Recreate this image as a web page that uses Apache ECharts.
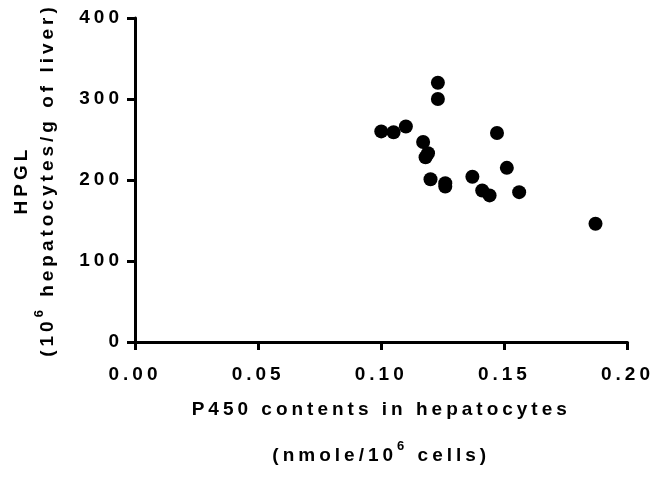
<!DOCTYPE html>
<html>
<head>
<meta charset="utf-8">
<script src="https://cdn.jsdelivr.net/npm/echarts@6/dist/echarts.min.js"></script>
<style>
  html, body { margin: 0; padding: 0; background: #fff; }
  #chart { width: 657px; height: 479px; }
</style>
</head>
<body>
<div id="chart"></div>
<script>
// P450 content vs HPGL, one point per animal
var p450 = [0.123, 0.123, 0.100, 0.105, 0.110, 0.117, 0.119, 0.118, 0.147, 0.120,
            0.126, 0.126, 0.151, 0.137, 0.141, 0.144, 0.156, 0.187];
var hpgl = [320, 300, 260, 259, 266, 247, 233, 228, 258, 201,
            196, 192, 215, 204, 187, 181, 185, 146];
var xTicks = [0, 0.05, 0.10, 0.15, 0.20];
var yTicks = [0, 100, 200, 300, 400];

// Prism style spaced lettering: set on every 2d context (drawing + measuring)
var origGetContext = HTMLCanvasElement.prototype.getContext;
HTMLCanvasElement.prototype.getContext = function (type, opts) {
    var ctx = origGetContext.call(this, type, opts);
    if (ctx && type === '2d' && 'letterSpacing' in ctx) {
        ctx.letterSpacing = '4px';
    }
    return ctx;
};

var FONT = "'Liberation Sans', Arial, sans-serif";
var points = [];
for (var i = 0; i < p450.length; i++) {
    points.push([p450[i], hpgl[i]]);
}

var myChart = echarts.init(document.getElementById('chart'));
myChart.setOption({
    animation: false,
    textStyle: { fontFamily: FONT, fontWeight: 'bold', color: '#000' },
    grid: { left: 135, right: 26, top: 18, bottom: 131 },
    xAxis: {
        type: 'value',
        min: xTicks[0],
        max: xTicks[xTicks.length - 1],
        interval: 0.05,
        splitLine: { show: false },
        axisLine: { lineStyle: { color: '#000', width: 3 } },
        axisTick: { length: 8, lineStyle: { color: '#000', width: 3 } },
        axisLabel: {
            margin: 21, fontSize: 19, fontWeight: 'bold', color: '#000', fontFamily: FONT,
            formatter: function (v) { return v.toFixed(2); }
        },
        name: '{a|P450 contents in hepatocytes}\n{a|(nmole/10}{sup|6}{a| cells)}',
        nameLocation: 'middle',
        nameGap: 45,
        nameTextStyle: {
            rich: {
                a: { fontSize: 19, fontWeight: 'bold', color: '#000', fontFamily: FONT, lineHeight: 46 },
                sup: { fontSize: 13, fontWeight: 'bold', color: '#000', fontFamily: FONT, lineHeight: 46, padding: [0, 0, 19, 0] }
            }
        }
    },
    yAxis: {
        type: 'value',
        min: yTicks[0],
        max: yTicks[yTicks.length - 1],
        interval: 100,
        splitLine: { show: false },
        axisLine: { lineStyle: { color: '#000', width: 3 } },
        axisTick: { length: 8, lineStyle: { color: '#000', width: 3 } },
        axisLabel: { margin: 12, fontSize: 19, fontWeight: 'bold', color: '#000', fontFamily: FONT },
        name: '{a|HPGL}\n{a|(10}{sup|6}{a| hepatocytes/g of liver)}',
        nameLocation: 'middle',
        nameGap: 74,
        nameTextStyle: {
            rich: {
                a: { fontSize: 19, fontWeight: 'bold', color: '#000', fontFamily: FONT, lineHeight: 26 },
                sup: { fontSize: 13, fontWeight: 'bold', color: '#000', fontFamily: FONT, lineHeight: 26, padding: [0, 0, 17, 0] }
            }
        }
    },
    series: [{
        type: 'scatter',
        symbol: 'circle',
        symbolSize: 14,
        itemStyle: { color: '#000', opacity: 1 },
        data: points
    }]
});
</script>
</body>
</html>
